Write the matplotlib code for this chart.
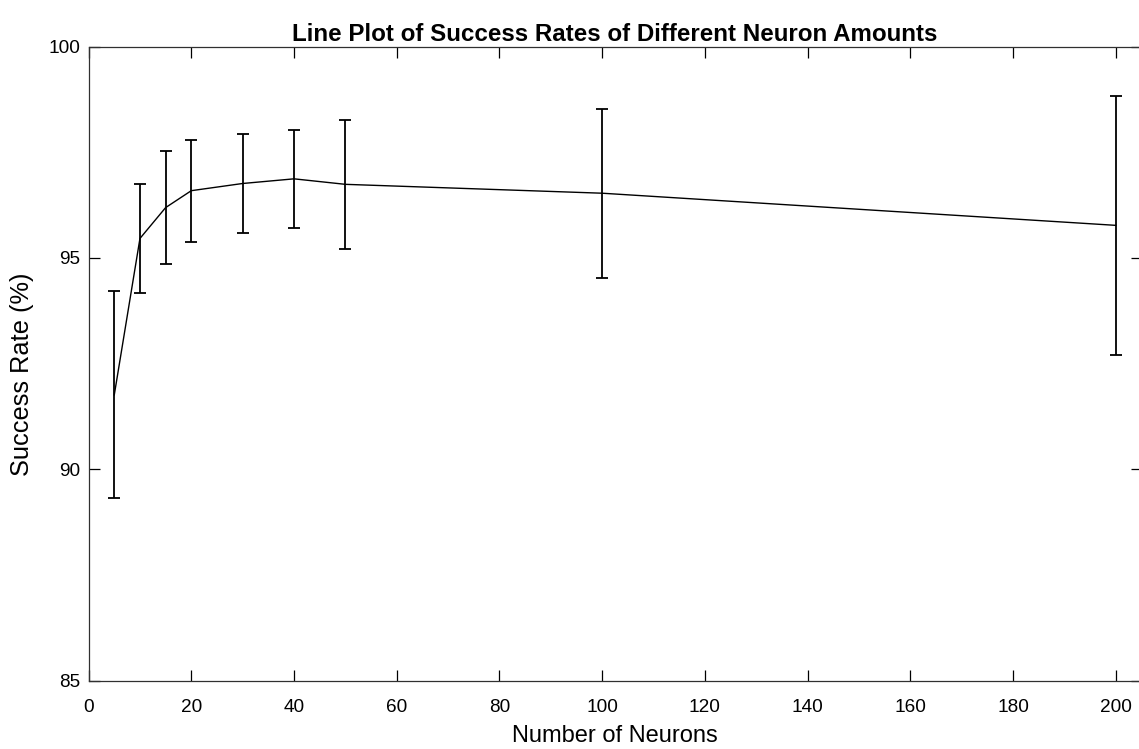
import matplotlib
matplotlib.use("Agg")
import matplotlib.pyplot as plt

neurons = [5, 10, 15, 20, 30, 40, 50, 100, 200]
success_mean = [91.76, 95.46, 96.19, 96.59, 96.76, 96.87, 96.74, 96.53, 95.77]
success_err = [2.45, 1.28, 1.33, 1.21, 1.17, 1.16, 1.53, 2.00, 3.06]
x_ticks = [0, 20, 40, 60, 80, 100, 120, 140, 160, 180, 200]
y_ticks = [85, 90, 95, 100]

plt.rcParams['font.family'] = ['Liberation Sans', 'DejaVu Sans']

W, H = 1139, 749
fig = plt.figure(figsize=(W / 100, H / 100), dpi=100)
x0_px, x200_px = 88.6, 1115.7
ppu = (x200_px - x0_px) / 200.0
right_px = 1141.5
left, right = x0_px / W, right_px / W
bottom, top = (H - 680.7) / H, (H - 46.5) / H
ax = fig.add_axes([left, bottom, right - left, top - bottom])

ax.errorbar(neurons, success_mean, yerr=success_err, color='black',
            linewidth=1.0, elinewidth=1.3, capsize=4.3, capthick=1.3)

ax.set_xlim(0, (right_px - x0_px) / ppu)
ax.set_ylim(85, 100)
ax.set_xticks(x_ticks)
ax.set_yticks(y_ticks)
ax.tick_params(direction='in', length=8, width=0.9, top=True, right=True,
               labelsize=13.7, colors='black')
ax.tick_params(axis='x', pad=13)
ax.tick_params(axis='y', pad=6)
for s in ax.spines.values():
    s.set_linewidth(0.9)
    s.set_color('#303030')
ax.spines['right'].set_visible(False)

ax.set_title('Line Plot of Success Rates of Different Neuron Amounts',
             fontsize=17.4, fontweight='bold', pad=4)
ax.set_xlabel('Number of Neurons', fontsize=17, labelpad=7)
ax.set_ylabel('Success Rate (%)', fontsize=18.3)
ax.yaxis.set_label_coords(-0.0515, 0.4836)

fig.savefig('out.png', dpi=100)
